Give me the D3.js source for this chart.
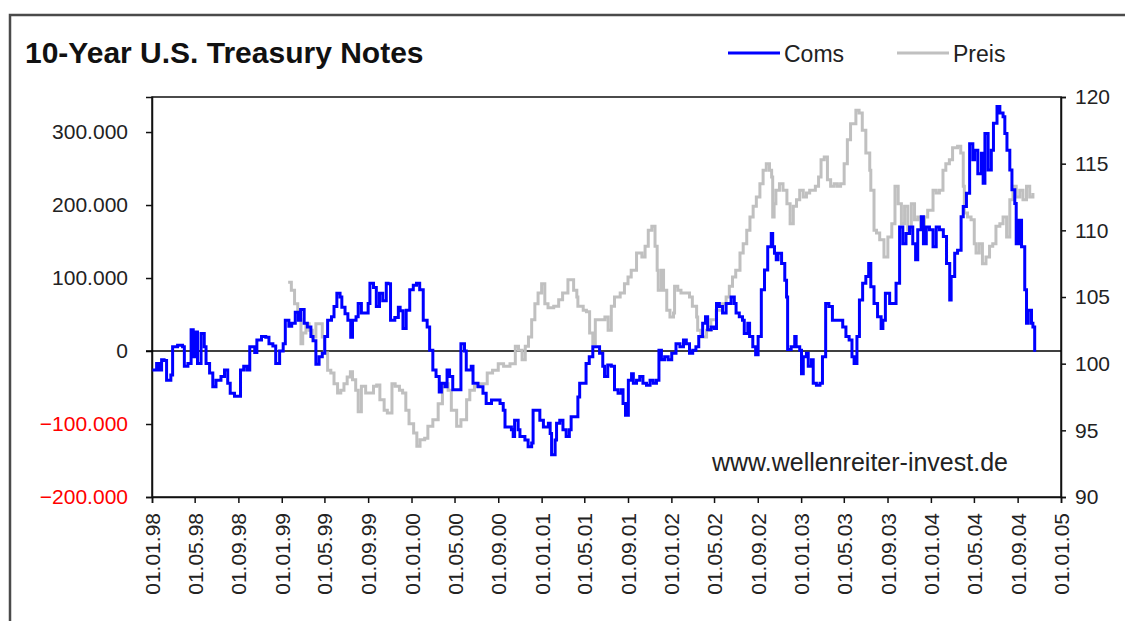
<!DOCTYPE html>
<head>
  <meta charset="utf-8">
  <script src="https://cdn.jsdelivr.net/npm/d3@7"></script>
  <style>
    body { margin: 0; background: #fff; }
    text { font-family: "Liberation Sans", Arial, sans-serif; }
  </style>
</head>
<body>
<svg width="1125" height="621"></svg>

<script type="text/javascript">

// Commercials net position (weekly)
var comsDates = [
  "1998-01-02","1998-01-14","1998-01-21","1998-01-28","1998-02-04","1998-02-11","1998-02-23","1998-02-28",
  "1998-03-14","1998-03-28","1998-04-02","1998-04-12","1998-04-21","1998-04-27","1998-05-03","1998-05-09",
  "1998-05-19","1998-05-28","1998-06-02","1998-06-12","1998-06-21","1998-06-30","1998-07-14","1998-07-24",
  "1998-08-02","1998-08-09","1998-08-21","1998-09-02","1998-09-07","1998-09-16","1998-09-25","1998-10-03",
  "1998-10-17","1998-10-23","1998-11-05","1998-11-17","1998-11-26","1998-12-07","1998-12-15","1998-12-26",
  "1999-01-05","1999-01-11","1999-01-21","1999-01-29","1999-02-08","1999-02-17","1999-02-23","1999-03-05",
  "1999-03-14","1999-03-24","1999-03-30","1999-04-07","1999-04-16","1999-04-25","1999-05-02","1999-05-10",
  "1999-05-21","1999-05-28","1999-06-05","1999-06-14","1999-06-19","1999-06-28","1999-07-06","1999-07-14",
  "1999-07-19","1999-07-29","1999-08-04","1999-08-13","1999-08-23","1999-09-01","1999-09-06","1999-09-16",
  "1999-09-24","1999-10-03","1999-10-12","1999-10-22","1999-10-27","1999-11-03","1999-11-15","1999-11-25",
  "1999-11-30","1999-12-08","1999-12-17","1999-12-27","2000-01-06","2000-01-15","2000-01-24","2000-02-03",
  "2000-02-14","2000-02-21","2000-03-01","2000-03-10","2000-03-19","2000-03-25","2000-04-04","2000-04-10",
  "2000-04-17","2000-04-26","2000-05-13","2000-05-19","2000-05-29","2000-06-03","2000-06-17","2000-06-22",
  "2000-07-06","2000-07-20","2000-07-29","2000-08-08","2000-08-13","2000-08-22","2000-09-06","2000-09-15",
  "2000-09-20","2000-10-08","2000-10-13","2000-10-17","2000-10-27","2000-11-01","2000-11-15","2000-11-24",
  "2000-12-04","2000-12-08","2000-12-18","2000-12-27","2001-01-06","2001-01-20","2001-01-25","2001-01-29",
  "2001-02-08","2001-02-12","2001-02-21","2001-03-02","2001-03-11","2001-03-20","2001-03-25","2001-04-04",
  "2001-04-13","2001-04-18","2001-04-27","2001-05-06","2001-05-15","2001-05-25","2001-06-04","2001-06-13",
  "2001-06-22","2001-06-27","2001-07-06","2001-07-16","2001-07-25","2001-08-04","2001-08-13","2001-08-18",
  "2001-08-25","2001-09-02","2001-09-11","2001-09-16","2001-09-25","2001-10-04","2001-10-13","2001-10-23",
  "2001-11-02","2001-11-11","2001-11-20","2001-11-27","2001-12-04","2001-12-13","2001-12-23","2002-01-02",
  "2002-01-14","2002-01-25","2002-02-04","2002-02-12","2002-02-21","2002-03-02","2002-03-11","2002-03-19",
  "2002-03-30","2002-04-07","2002-04-13","2002-04-23","2002-05-02","2002-05-08","2002-05-16","2002-05-25",
  "2002-06-04","2002-06-18","2002-06-27","2002-07-02","2002-07-11","2002-07-20","2002-07-25","2002-08-04",
  "2002-08-09","2002-08-18","2002-08-26","2002-09-02","2002-09-11","2002-09-20","2002-09-29","2002-10-09",
  "2002-10-13","2002-10-18","2002-10-23","2002-10-28","2002-11-07","2002-11-16","2002-11-21","2002-11-24",
  "2002-12-04","2002-12-14","2002-12-18","2002-12-28","2003-01-02","2003-01-07","2003-01-16","2003-01-21",
  "2003-01-30","2003-02-04","2003-02-13","2003-02-23","2003-03-02","2003-03-11","2003-03-20","2003-03-30",
  "2003-04-18","2003-04-28","2003-05-07","2003-05-16","2003-05-24","2003-05-30","2003-06-07","2003-06-14",
  "2003-06-23","2003-07-02","2003-07-10","2003-07-16","2003-07-25","2003-08-04","2003-08-14","2003-08-19",
  "2003-08-26","2003-09-07","2003-09-21","2003-09-25","2003-10-05","2003-10-14","2003-10-23","2003-11-02",
  "2003-11-11","2003-11-19","2003-11-25","2003-12-05","2003-12-11","2003-12-19","2003-12-28","2004-01-07",
  "2004-01-16","2004-01-25","2004-02-05","2004-02-14","2004-02-23","2004-02-27","2004-03-08","2004-03-16",
  "2004-03-26","2004-04-01","2004-04-10","2004-04-19","2004-04-28","2004-05-03","2004-05-12","2004-05-22",
  "2004-05-27","2004-06-01","2004-06-10","2004-06-19","2004-06-25","2004-07-05","2004-07-13","2004-07-22",
  "2004-07-27","2004-08-02","2004-08-10","2004-08-16","2004-08-24","2004-08-28","2004-09-05","2004-09-12",
  "2004-09-21","2004-09-26","2004-10-01","2004-10-10","2004-10-14","2004-10-19"
];
var coms = [
  -26000,-17000,-26000,-12000,-13000,-40000,-33000,6000,
  8000,6000,-21000,-17000,29000,-8000,26000,-17000,
  24000,6000,-17000,-30000,-49000,-40000,-35000,-26000,
  -44000,-58000,-62000,-62000,-26000,-21000,-26000,6000,
  -2000,15000,20000,19000,10000,7000,-17000,0,
  10000,42000,34000,38000,53000,42000,57000,38000,
  33000,20000,14000,-18000,-8000,-3000,20000,42000,
  47000,61000,79000,74000,60000,51000,42000,19000,
  42000,47000,65000,52000,52000,65000,93000,87000,
  61000,79000,69000,93000,92000,42000,46000,60000,
  55000,31000,56000,84000,90000,93000,84000,42000,
  33000,1000,-26000,-35000,-56000,-44000,-49000,-26000,
  -35000,-53000,-53000,10000,0,-26000,-21000,-44000,
  -49000,-58000,-72000,-72000,-67000,-67000,-72000,-81000,
  -104000,-108000,-117000,-95000,-108000,-117000,-122000,-131000,
  -126000,-81000,-81000,-95000,-104000,-99000,-113000,-142000,
  -122000,-99000,-95000,-108000,-117000,-108000,-90000,-90000,
  -63000,-44000,-44000,-17000,-8000,6000,6000,-3000,
  -21000,-35000,-19000,-21000,-53000,-58000,-53000,-72000,
  -88000,-40000,-31000,-44000,-40000,-35000,-44000,-47000,
  -40000,-44000,-40000,1000,-12000,-8000,-12000,-3000,
  10000,6000,15000,10000,-3000,1000,6000,20000,
  38000,47000,29000,33000,31000,65000,61000,52000,
  65000,74000,65000,52000,47000,42000,24000,38000,
  20000,6000,-5000,20000,84000,111000,143000,161000,
  143000,134000,125000,134000,120000,97000,74000,2000,
  6000,20000,6000,1000,-31000,-8000,-3000,-21000,
  -12000,-44000,-47000,-44000,-8000,65000,61000,42000,
  42000,33000,20000,15000,-8000,-17000,20000,70000,
  93000,102000,120000,88000,65000,47000,31000,42000,
  79000,65000,65000,93000,170000,147000,161000,170000,
  147000,125000,166000,184000,147000,170000,166000,143000,
  170000,166000,157000,120000,70000,102000,134000,138000,
  184000,198000,216000,284000,262000,275000,243000,271000,
  230000,298000,248000,275000,312000,335000,326000,321000,
  298000,275000,248000,221000,202000,147000,179000,143000,
  84000,38000,56000,38000,33000,-1000
];

// Price of the 10-year note future
var preisDates = [
  "1999-01-19","1999-01-28","1999-02-06","1999-02-15","1999-02-24","1999-03-01","1999-03-10","1999-03-19",
  "1999-03-28","1999-04-07","1999-04-16","1999-04-25","1999-05-01","1999-05-10","1999-05-19","1999-05-28",
  "1999-06-07","1999-06-16","1999-06-25","1999-07-04","1999-07-13","1999-07-19","1999-07-28","1999-08-04",
  "1999-08-13","1999-08-25","1999-09-04","1999-09-16","1999-09-25","1999-10-04","1999-10-16","1999-10-25",
  "1999-11-07","1999-11-16","1999-11-28","1999-12-07","1999-12-16","1999-12-25","2000-01-07","2000-01-16",
  "2000-01-25","2000-02-07","2000-02-16","2000-03-01","2000-03-16","2000-03-28","2000-04-13","2000-04-22",
  "2000-05-07","2000-05-19","2000-06-04","2000-06-13","2000-06-26","2000-07-10","2000-08-01","2000-08-16",
  "2000-09-01","2000-09-16","2000-10-04","2000-10-19","2000-10-28","2000-11-07","2000-11-16","2000-11-25",
  "2000-12-04","2000-12-13","2000-12-22","2001-01-01","2001-01-10","2001-01-19","2001-02-04","2001-02-18",
  "2001-03-01","2001-03-16","2001-04-01","2001-04-10","2001-04-13","2001-04-28","2001-05-07","2001-05-16",
  "2001-05-25","2001-06-01","2001-06-13","2001-06-28","2001-07-07","2001-07-16","2001-07-25","2001-08-10",
  "2001-08-22","2001-09-01","2001-09-10","2001-09-25","2001-10-10","2001-10-19","2001-10-28","2001-11-07",
  "2001-11-16","2001-11-22","2001-11-25","2001-12-04","2001-12-10","2001-12-19","2001-12-28","2002-01-07",
  "2002-01-10","2002-01-19","2002-01-28","2002-02-12","2002-02-21","2002-03-01","2002-03-13","2002-03-16",
  "2002-03-25","2002-04-10","2002-04-22","2002-05-07","2002-05-25","2002-06-04","2002-06-13","2002-06-22",
  "2002-07-01","2002-07-13","2002-07-22","2002-08-01","2002-08-10","2002-08-19","2002-08-28","2002-09-07",
  "2002-09-16","2002-09-25","2002-10-04","2002-10-10","2002-10-13","2002-10-17","2002-10-22","2002-11-01",
  "2002-11-11","2002-11-22","2002-12-01","2002-12-10","2002-12-19","2002-12-28","2003-01-07","2003-01-16",
  "2003-01-25","2003-02-10","2003-02-19","2003-02-26","2003-03-07","2003-03-16","2003-03-25","2003-04-04",
  "2003-04-13","2003-04-22","2003-05-02","2003-05-11","2003-05-20","2003-06-04","2003-06-13","2003-06-22",
  "2003-07-02","2003-07-13","2003-07-16","2003-07-25","2003-08-01","2003-08-10","2003-08-22","2003-09-02",
  "2003-09-13","2003-09-22","2003-10-01","2003-10-10","2003-10-19","2003-10-28","2003-11-07","2003-11-16",
  "2003-11-25","2003-12-04","2003-12-14","2003-12-23","2004-01-07","2004-01-16","2004-01-25","2004-02-04",
  "2004-02-12","2004-02-22","2004-03-02","2004-03-16","2004-03-25","2004-04-01","2004-04-04","2004-04-13",
  "2004-04-23","2004-05-02","2004-05-07","2004-05-16","2004-05-25","2004-06-04","2004-06-14","2004-06-23",
  "2004-07-02","2004-07-13","2004-07-22","2004-08-01","2004-08-10","2004-08-19","2004-08-28","2004-09-07",
  "2004-09-16","2004-09-26","2004-10-05","2004-10-14"
];
var preis = [
  106.1,105.5,104.5,103.3,101.5,102.3,103.0,102.5,
  102.0,103.0,103.0,102.0,100.8,99.5,99.3,98.5,
  97.8,98.0,98.5,99.0,99.4,98.8,98.0,96.4,
  98.3,97.8,97.8,98.3,98.4,97.3,96.5,96.3,
  98.5,98.3,98.0,97.8,96.5,95.5,94.8,93.8,
  94.3,94.4,95.3,95.8,97.0,98.5,98.0,96.5,
  95.3,95.8,97.3,98.0,98.3,98.5,99.3,99.5,
  100.0,99.8,100.0,101.3,101.0,100.3,101.3,102.0,
  103.3,104.5,105.3,106.0,104.5,104.2,104.3,104.8,
  105.3,106.3,105.5,105.0,104.3,104.0,103.9,102.3,
  101.5,103.3,103.3,103.5,102.5,104.3,105.0,105.3,
  106.0,106.5,107.0,108.3,108.0,108.8,110.0,110.3,
  108.8,107.0,105.5,107.0,105.5,104.0,103.5,103.8,
  105.8,105.5,105.3,105.3,105.0,104.3,103.5,102.5,
  102.0,102.5,103.3,104.0,104.5,105.0,105.8,106.5,
  107.0,108.3,109.0,110.0,111.0,111.8,112.5,113.5,
  114.5,115.0,114.5,114.0,111.0,112.0,113.0,113.5,
  113.0,112.0,110.5,111.8,112.3,113.0,112.5,112.8,
  113.0,113.3,114.0,115.3,115.5,113.8,113.3,113.5,
  113.3,113.5,115.0,116.8,118.0,119.0,118.8,117.5,
  115.8,114.5,113.0,110.0,109.8,109.3,108.0,109.5,
  110.5,113.3,112.0,110.5,111.8,110.0,112.0,110.8,
  111.0,110.3,111.0,111.5,113.0,112.8,113.0,114.5,
  115.0,115.3,116.2,116.3,115.8,113.3,111.3,111.0,
  110.8,109.0,108.3,109.0,107.5,108.0,108.8,109.0,
  110.3,110.5,111.0,109.5,112.3,113.3,112.5,113.0,
  112.3,113.3,112.5,112.8
];

var leftTicks = [-200000, -100000, 0, 100000, 200000, 300000];
var rightTicks = [90, 95, 100, 105, 110, 115, 120];
var xTickDates = [
  "1998-01-01","1998-05-01","1998-09-01","1999-01-01","1999-05-01","1999-09-01",
  "2000-01-01","2000-05-01","2000-09-01","2001-01-01","2001-05-01","2001-09-01",
  "2002-01-01","2002-05-01","2002-09-01","2003-01-01","2003-05-01","2003-09-01",
  "2004-01-01","2004-05-01","2004-09-01","2005-01-01"
];

var parse = d3.timeParse("%Y-%m-%d");
var svg = d3.select("svg");

// layout of the plot box
var plotL = 152, plotR = 1061, plotT = 97, plotB = 497;

// outer chart frame (right and bottom edges run off the picture)
svg.append("rect")
    .attr("x", 10).attr("y", 15)
    .attr("width", 1200).attr("height", 700)
    .style("fill", "#fff")
    .style("stroke", "#4a4a4a")
    .style("stroke-width", 2.5);

var x = d3.scaleTime()
    .domain([parse("1998-01-01"), parse("2005-01-01")])
    .range([plotL, plotR]);
var yL = d3.scaleLinear().domain([-200000, 348000]).range([plotB, plotT]);
var yR = d3.scaleLinear().domain([90, 120]).range([plotB, plotT]);

var de = d3.formatLocale({ decimal: ",", thousands: ".", grouping: [3], currency: ["", "€"] });
var fmt = de.format(",d");

// plot box
svg.append("rect")
    .attr("x", plotL).attr("y", plotT)
    .attr("width", plotR - plotL).attr("height", plotB - plotT)
    .style("fill", "none")
    .style("stroke", "#111")
    .style("stroke-width", 1.5);

// left axis
var gL = svg.append("g")
    .attr("transform", "translate(" + plotL + ",0)")
    .call(d3.axisLeft(yL).tickValues(leftTicks).tickFormat(fmt).tickSize(6).tickPadding(18));
gL.selectAll("text")
    .style("font-size", "21px")
    .style("fill", function(d) { return d < 0 ? "#ff0000" : "#222"; });

// right axis
var gR = svg.append("g")
    .attr("transform", "translate(" + plotR + ",0)")
    .call(d3.axisRight(yR).tickValues(rightTicks).tickSize(5).tickPadding(9));
gR.selectAll("text").style("font-size", "21px").style("fill", "#222");

// bottom axis, labels turned upright
var gB = svg.append("g")
    .attr("transform", "translate(0," + plotB + ")")
    .call(d3.axisBottom(x).tickValues(xTickDates.map(parse)).tickFormat(d3.timeFormat("%d.%m.%y")).tickSize(6));
gB.selectAll("text")
    .attr("transform", "rotate(-90)")
    .attr("x", -16).attr("y", 0).attr("dy", "0.36em")
    .style("text-anchor", "end")
    .style("font-size", "21px")
    .style("fill", "#222");

svg.selectAll(".domain").style("stroke", "#111").style("stroke-width", 1.5);
svg.selectAll(".tick line").style("stroke", "#111").style("stroke-width", 1.5);

// zero line
svg.append("line")
    .attr("x1", plotL - 6).attr("x2", plotR)
    .attr("y1", yL(0)).attr("y2", yL(0))
    .style("stroke", "#000")
    .style("stroke-width", 1.5);

// weekly data in the original gives a blocky, stepped look
var preisLine = d3.line()
    .curve(d3.curveStepAfter)
    .x(function(d, i) { return x(parse(preisDates[i])); })
    .y(function(d) { return yR(d); });
var comsLine = d3.line()
    .curve(d3.curveStepAfter)
    .x(function(d, i) { return x(parse(comsDates[i])); })
    .y(function(d) { return yL(d); });

svg.append("path")
    .datum(preis)
    .attr("d", preisLine)
    .style("fill", "none")
    .style("stroke", "#c0c0c0")
    .style("stroke-width", 3);

svg.append("path")
    .datum(coms)
    .attr("d", comsLine)
    .style("fill", "none")
    .style("stroke", "#0000ff")
    .style("stroke-width", 3);

// title
svg.append("text")
    .attr("x", 25).attr("y", 63)
    .text("10-Year U.S. Treasury Notes")
    .style("font-size", "30px")
    .style("font-weight", "bold")
    .style("fill", "#111");

// legend
var legend = [
  { name: "Coms", color: "#0000ff", x: 728 },
  { name: "Preis", color: "#c0c0c0", x: 897 }
];
var lg = svg.selectAll(".legend")
    .data(legend)
  .enter()
  .append("g")
    .attr("class", "legend")
    .attr("transform", function(d) { return "translate(" + d.x + ",53)"; });
lg.append("line")
    .attr("x1", 0).attr("x2", 52)
    .style("stroke", function(d) { return d.color; })
    .style("stroke-width", 3);
lg.append("text")
    .attr("x", 56).attr("y", 9)
    .text(function(d) { return d.name; })
    .style("font-size", "23px")
    .style("fill", "#222");

// source note
svg.append("text")
    .attr("x", 712).attr("y", 471)
    .text("www.wellenreiter-invest.de")
    .style("font-size", "25px")
    .style("fill", "#222");
</script>

</body>
</html>
